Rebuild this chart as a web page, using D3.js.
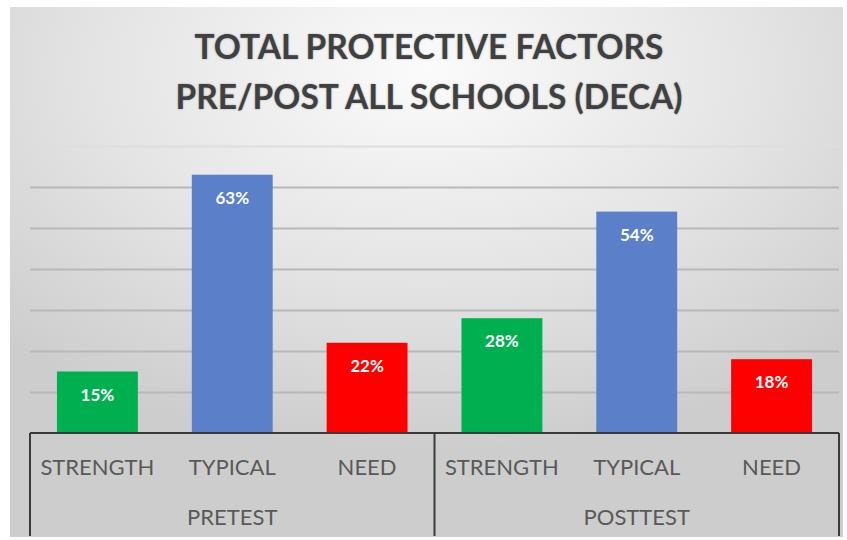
<!DOCTYPE html>
<html>
<head>
<meta charset="utf-8">
<script src="https://cdn.jsdelivr.net/npm/d3@7"></script>
<style>
  body { margin: 0; background: #fff; }
  svg { display: block; font-family: Lato, "Open Sans", sans-serif; }
</style>
</head>
<body>
<svg width="847" height="540"></svg>
<script>
// data
var groups = ["PRETEST", "POSTTEST"];
var categories = ["STRENGTH", "TYPICAL", "NEED"];
var pretest = [15, 63, 22];
var posttest = [28, 54, 18];
var yTicks = [10, 20, 30, 40, 50, 60, 70];

var rows = [];
groups.forEach(function(g, gi) {
  var vals = gi === 0 ? pretest : posttest;
  categories.forEach(function(c, ci) {
    rows.push({ group: g, cat: c, key: g + "|" + c, value: vals[ci] });
  });
});

var svg = d3.select("svg");

// background gradient
var defs = svg.append("defs");
var grad = defs.append("radialGradient")
    .attr("id", "bg")
    .attr("cx", "50%").attr("cy", "12%").attr("r", "72%");
grad.append("stop").attr("offset", "0%").attr("stop-color", "#fbfbfb");
grad.append("stop").attr("offset", "55%").attr("stop-color", "#e4e4e4");
grad.append("stop").attr("offset", "100%").attr("stop-color", "#cdcdcd");

svg.append("rect")
    .attr("x", 10).attr("y", 7)
    .attr("width", 833).attr("height", 530)
    .attr("fill", "url(#bg)");

var plotLeft = 30, plotRight = 839, plotTop = 146, plotBottom = 433;

var x = d3.scaleBand()
    .domain(rows.map(function(d) { return d.key; }))
    .range([plotLeft, plotRight])
    .paddingInner(0.4)
    .paddingOuter(0.2);

var y = d3.scaleLinear()
    .domain([0, 70])
    .range([plotBottom, plotTop]);

var color = d3.scaleOrdinal()
    .domain(categories)
    .range(["#00b050", "#5b80c9", "#ff0000"]);

// gridlines
var grid = svg.append("g")
    .attr("transform", "translate(" + plotLeft + ",0)")
    .call(d3.axisLeft(y).tickValues(yTicks).tickSize(-(plotRight - plotLeft)).tickFormat(""));
grid.select(".domain").remove();
grid.selectAll(".tick line")
    .attr("stroke", function(d) { return d === 70 ? "#dedede" : "#b8b8b8"; })
    .attr("stroke-width", 2);

// bars
svg.append("g").selectAll("rect")
  .data(rows)
  .enter().append("rect")
    .attr("x", function(d) { return x(d.key); })
    .attr("y", function(d) { return y(d.value); })
    .attr("width", x.bandwidth())
    .attr("height", function(d) { return y(0) - y(d.value); })
    .attr("fill", function(d) { return color(d.cat); });

// value labels
svg.append("g").selectAll("text")
  .data(rows)
  .enter().append("text")
    .attr("x", function(d) { return x(d.key) + x.bandwidth() / 2; })
    .attr("y", function(d) { return y(d.value) + 29; })
    .attr("text-anchor", "middle")
    .attr("fill", "#fff")
    .attr("font-weight", "bold")
    .attr("font-size", 17)
    .text(function(d) { return d.value + "%"; });

// axis frame
var frame = svg.append("g")
    .attr("stroke", "#3a3a3a")
    .attr("stroke-width", 2)
    .attr("fill", "none");
frame.append("line")
    .attr("x1", plotLeft).attr("x2", plotRight)
    .attr("y1", plotBottom).attr("y2", plotBottom);
var groupEdges = [plotLeft].concat(groups.map(function(g) {
  var keys = rows.filter(function(d) { return d.group === g; });
  var last = keys[keys.length - 1].key;
  return x(last) + x.bandwidth() + x.step() * x.paddingInner() / 2;
}));
groupEdges[groupEdges.length - 1] = plotRight;
frame.selectAll(".sep")
  .data(groupEdges)
  .enter().append("line")
    .attr("x1", function(d) { return d; }).attr("x2", function(d) { return d; })
    .attr("y1", plotBottom).attr("y2", 536);

// category labels
svg.append("g").selectAll("text")
  .data(rows)
  .enter().append("text")
    .attr("x", function(d) { return x(d.key) + x.bandwidth() / 2; })
    .attr("y", 475)
    .attr("text-anchor", "middle")
    .attr("fill", "#595959")
    .attr("font-size", 22)
    .text(function(d) { return d.cat; });

// group labels
svg.append("g").selectAll("text")
  .data(groups)
  .enter().append("text")
    .attr("x", function(d, i) { return (groupEdges[i] + groupEdges[i + 1]) / 2; })
    .attr("y", 525)
    .attr("text-anchor", "middle")
    .attr("fill", "#595959")
    .attr("font-size", 22)
    .text(function(d) { return d; });

// title
var title = svg.append("text")
    .attr("text-anchor", "middle")
    .attr("fill", "#404040")
    .attr("font-weight", "bold")
    .attr("font-size", 33.5)
    .style("text-shadow", "0 0 2px rgba(0,0,0,0.35)");
title.append("tspan").attr("x", 429).attr("y", 59).text("TOTAL PROTECTIVE FACTORS");
title.append("tspan").attr("x", 429).attr("y", 109).text("PRE/POST ALL SCHOOLS (DECA)");
</script>
</body>
</html>
